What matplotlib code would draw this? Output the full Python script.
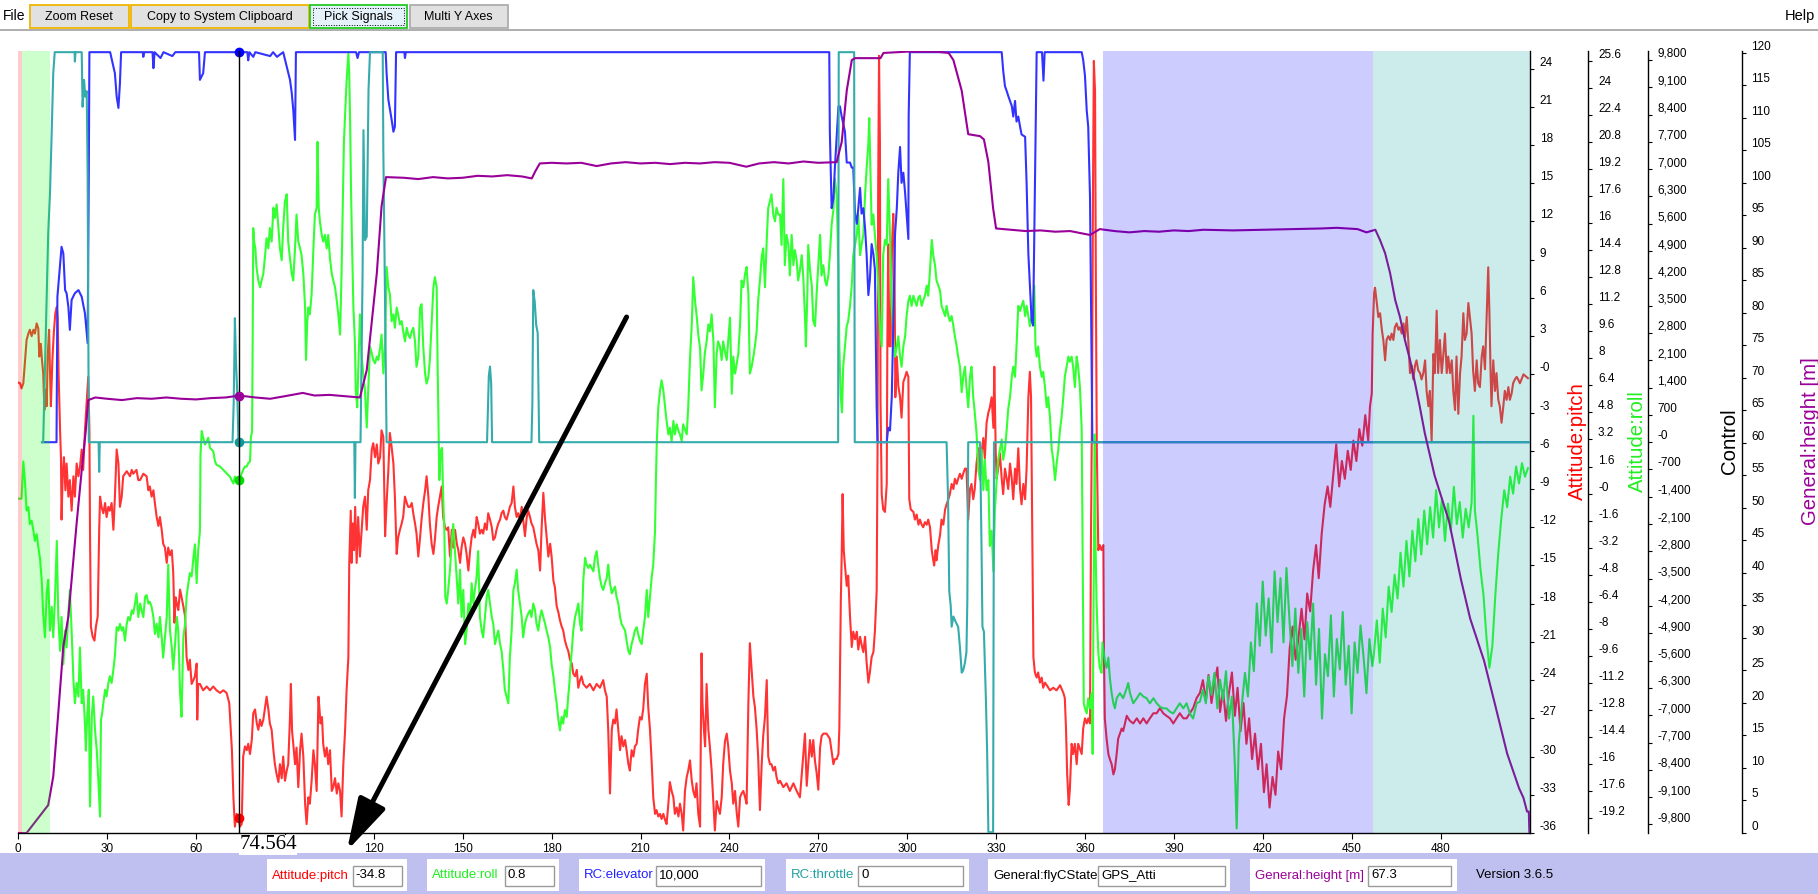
import matplotlib
matplotlib.use("Agg")
import matplotlib.pyplot as plt
import numpy as np
from matplotlib.patches import Rectangle, ArrowStyle
from matplotlib.transforms import blended_transform_factory

plt.rcParams["font.family"] = ["Liberation Sans", "DejaVu Sans"]

W, H = 1818, 894

# ---- data (time in seconds, values in each signal's own units) ----
HEIGHT = [(-0.5, 0), (2.8, 0), (10.1, 4.3), (11.8, 8.7), (13.5, 18.5), (15.2, 28.7), (16.9, 33.3), (18, 38.9),
          (19.7, 47.7), (21.4, 55.8), (22.8, 62), (23.6, 66.6), (26, 67.0), (30, 66.8), (35, 66.6), (40, 66.9),
          (45, 66.8), (50, 67.0), (55, 66.8), (60, 66.7), (65, 66.9), (70, 67.0), (74.6, 67.3), (80, 67.0),
          (85, 66.8), (90, 67.2), (96, 67.7), (100, 67.3), (105, 67.4), (110, 67.2), (115.3, 67.0), (117.6, 71.2),
          (121, 86.1), (122.6, 96.4), (124.1, 100.9), (130, 100.8), (135, 100.6), (140, 100.9), (145, 100.7),
          (150, 100.8), (155, 101.1), (160, 101.0), (165, 101.2), (170, 101.0), (173.3, 100.7), (174.5, 101.8),
          (176, 103.0), (180, 103.1), (185, 103.0), (190, 103.1), (195.2, 102.6), (200, 103.0), (205, 103.2),
          (210, 103.0), (215, 103.1), (220, 102.9), (225, 103.1), (230, 103.0), (235, 103.2), (240, 103.1),
          (245.7, 102.5), (250, 103.0), (255, 103.2), (260, 103.0), (265, 103.3), (270, 103.1), (276.2, 103.2),
          (277.9, 106.3), (279.6, 114.2), (281.3, 118.9), (282.4, 119.2), (291, 119.2), (292, 120.0), (300, 120.2),
          (310, 120.2), (314, 120.0), (315.6, 118.9), (318.4, 114.2), (320.6, 107.5), (324.6, 107.2), (325.9, 106.7),
          (327.4, 103.2), (329, 96.1), (330, 93.0), (335, 92.8), (340, 92.6), (345, 92.7), (350, 92.5), (355, 92.6),
          (361.7, 92.0), (365, 92.9), (370, 92.6), (375, 92.4), (380, 92.6), (385, 92.5), (390, 92.7), (395, 92.6),
          (400, 92.8), (410, 92.7), (420, 92.8), (430, 92.9), (440, 93.0), (445, 93.1), (452, 92.9), (455, 92.4),
          (458, 92.8), (459.6, 91.2), (461.3, 89.2), (463, 86.1), (464.7, 82.0), (466.3, 79.4), (468, 75.8),
          (469.7, 72.8), (471.4, 69.2), (473, 65.6), (474.7, 61.5), (478, 55.0), (482.9, 47.9), (486.9, 39.0),
          (490, 33.0), (494.7, 26.5), (498.6, 19.4), (502.5, 12.2), (506.5, 6.9), (508, 5.4), (509.2, 3.3),
          (509.8, 3.3), (510, 0)]

ELEVATOR = [(8, 0), (12.9, 0), (13.2, 3730), (14.6, 5010), (15.2, 4840), (15.8, 3900), (16.3, 3820), (16.9, 3470),
            (17.4, 2880), (18, 3650), (19.1, 3820), (20.3, 3900), (21.4, 3730), (22.5, 3300), (23.1, 2800),
            (23.4, 2540), (23.8, 6900), (24, 10000), (31, 10000), (32.6, 9460), (33.2, 8860), (33.8, 8570),
            (34.3, 9200), (34.7, 10000), (42, 10000), (42.2, 9880), (42.5, 10000), (45.3, 10000), (45.6, 9590),
            (46, 10000), (48, 9850), (49, 10000), (52, 9900), (53, 10000), (61, 10000), (61.3, 9290), (62.4, 9460),
            (63, 10000), (77.3, 10000), (77.6, 9790), (78, 10000), (79.3, 9880), (80, 10000), (85, 9900),
            (86, 10000), (87.3, 9880), (89.4, 10000), (90.6, 9630), (91.7, 9290), (92.3, 8950), (92.8, 8520),
            (93.4, 7750), (93.7, 10000), (114, 10000), (114.5, 9850), (115, 10000), (124, 10000), (124.3, 9460),
            (124.9, 8780), (126, 8270), (126.6, 7960), (127.1, 8090), (127.5, 10000), (130.3, 10000), (130.5, 9850),
            (130.8, 10000), (273.7, 10000), (273.9, 7960), (274.5, 6000), (275.1, 6260), (275.6, 7040), (276.2, 7830),
            (276.8, 8610), (277.3, 8610), (277.9, 8350), (279, 7960), (279.6, 7170), (280.7, 7170), (281.3, 7040),
            (281.8, 7040), (282.4, 5860), (283, 5600), (283.5, 6000), (284.1, 6520), (284.6, 5860), (285.2, 6000),
            (285.8, 5470), (286.3, 4820), (286.9, 3770), (287.4, 4160), (288, 5080), (288.6, 4820), (289.1, 4430),
            (289.7, 895), (290, 0), (293.1, 0), (293.6, 370), (294.2, 300), (294.8, 1160), (295.3, 2990),
            (295.9, 5340), (296.5, 6000), (297, 6910), (297.6, 7570), (298.1, 6650), (298.7, 6910), (299.3, 6390),
            (299.8, 5860), (300.4, 5210), (300.5, 8350), (300.9, 10000), (331.9, 10000), (332.4, 9530), (333, 9130),
            (333.6, 9000), (334.1, 8880), (334.7, 8750), (335.3, 8620), (335.8, 8350), (336.4, 8750), (336.9, 8220),
            (337.5, 8350), (338.1, 8090), (338.6, 7890), (339.8, 7830), (340.3, 6650), (340.9, 4820), (341.4, 4030),
            (342, 3120), (342.5, 2990), (343.1, 6390), (343.7, 10000), (345.5, 10000), (346, 9270), (346.4, 10000),
            (358.9, 10000), (359.4, 9800), (360, 9400), (360.6, 8500), (361.1, 8090), (361.7, 6300), (362, 3900),
            (362.5, 0), (510.2, 0)]

THROTTLE = [(8, 0), (8.4, 0), (10.1, 5360), (10.7, 6390), (11.2, 7750), (11.8, 9460), (12.3, 10000), (19, 10000),
            (19.1, 9760), (19.3, 10000), (21.4, 10000), (21.7, 8600), (22.2, 9290), (22.6, 8860), (23.1, 9000),
            (23.4, 6900), (23.8, 0), (27.1, 0), (27.3, -760), (27.5, 0), (72.3, 0), (72.7, 1000), (73.1, 3180),
            (73.5, 2000), (73.9, 1260), (74.3, 0), (113.4, 0), (113.6, -1430), (113.8, 0), (115.5, 0), (116.2, 4330),
            (116.5, 8000), (117, 5180), (117.6, 5270), (118.2, 9030), (118.7, 10000), (123, 10000), (123.2, 7490),
            (123.8, 3470), (124.3, 0), (158.2, 0), (158.8, 1700), (159.2, 1940), (159.6, 1500), (159.9, 0),
            (173.2, 0), (173.5, 1000), (173.8, 3900), (174.3, 3600), (174.8, 3000), (175.3, 2800), (175.8, 0),
            (276.7, 0), (276.9, 10000), (282.1, 10000), (282.3, 0), (313.3, 0), (313.8, -1460), (314.2, -3820),
            (314.7, -4200), (315, -4730), (315.6, -4470), (316.1, -4560), (316.7, -4660), (317.2, -4730),
            (317.8, -5250), (318.4, -5910), (318.9, -5850), (319.5, -5650), (320, -5380), (320.3, -4070),
            (320.6, 0), (324.6, 0), (325.1, -2760), (325.4, -4730), (325.9, -4860), (326.6, -6690), (327, -8000),
            (327.4, -10000), (329, -10000), (329.3, 0), (510.2, 0)]

PITCH = [(-0.5, -0.6), (0.6, -0.7), (1.1, -1.1), (1.7, -0.7), (2.3, 1.1), (2.8, 2.7), (3.4, 3.2), (3.9, 3.5),
         (4.5, 3.0), (5.1, 3.5), (5.6, 3.2), (6.2, 4.0), (6.75, 3.6), (7.1, 1.4), (7.6, 2.4), (8, 1.1), (8.4, 0.1),
         (8.8, -2.8), (9.2, -1.2), (9.6, -2.5), (9.9, 1.4), (10.4, 3.5), (10.7, 0.1), (11, -2.5), (11.5, 1.1),
         (12, 3.3), (12.5, 4.8), (13, 5.3), (13.3, 4.4), (13.6, 0.1), (14.1, -4.4), (14.4, -6.5), (14.6, -11.4),
         (15, -7.8), (15.4, -6.5), (15.9, -9.1), (16.3, -7.0), (16.9, -9.6), (17.4, -8.3), (18, -10.7),
         (18.6, -8.0), (19.1, -9.6), (19.7, -7.0), (20.3, -8.0), (20.8, -7.3), (21.4, -5.9), (21.9, -7.5),
         (22.5, -4.4), (23.6, -0.2), (24, -4.4), (24.2, -12.2), (24.5, -19.8), (25.1, -20.6), (25.7, -20.9),
         (26.2, -19.8), (26.8, -19.0), (27.3, -12.2), (27.6, -9.6), (28.1, -10.4), (28.7, -10.9), (29.3, -10.1),
         (29.8, -11.2), (30.4, -10.4), (30.9, -10.7), (31.5, -10.1), (32.1, -12.2), (32.6, -9.6), (33.2, -5.9),
         (33.8, -7.0), (34.3, -10.4), (34.9, -9.6), (35.4, -8.0), (36, -7.8), (36.6, -7.6), (37.7, -8.0),
         (38.3, -7.5), (38.8, -7.8), (39.9, -7.5), (40.5, -8.3), (41.1, -8.3), (42.2, -7.8), (43.3, -8.0),
         (43.9, -9.1), (44.4, -8.8), (45, -9.6), (45.6, -9.1), (46.1, -10.1), (46.7, -11.2), (47.3, -11.9),
         (47.8, -11.2), (48.4, -12.2), (48.9, -13.3), (49.5, -13.6), (50.1, -14.8), (50.6, -13.6), (51.2, -14.2),
         (51.8, -13.8), (52.3, -15.6), (52.7, -19.5), (53.1, -17.5), (53.5, -18.0), (54, -18.5), (54.6, -16.9),
         (55.1, -17.5), (55.7, -18.2), (56.3, -19.0), (56.8, -22.2), (57.4, -23.2), (57.9, -22.4), (58.5, -24.3),
         (59.1, -24.0), (59.6, -23.7), (60.2, -22.7), (60.4, -27.1), (60.7, -24.3), (61.3, -24.3), (62.4, -24.8),
         (63.6, -24.5), (64.7, -24.8), (65.8, -24.5), (66.9, -24.8), (68.1, -25.0), (69.2, -24.8), (70.3, -25.0),
         (71.2, -25.8), (71.7, -27.9), (72.1, -29.5), (72.6, -33.2), (73.1, -35.5), (73.7, -34.5), (74.3, -34.7),
         (74.8, -35.5), (75.4, -35.3), (75.9, -30.0), (76.5, -29.2), (77.1, -29.5), (77.6, -29.0), (78.2, -29.8),
         (78.8, -28.7), (79.3, -26.6), (79.9, -26.3), (80.5, -27.4), (81, -27.9), (81.6, -27.1), (82.1, -27.6),
         (82.7, -27.1), (83.3, -26.1), (83.8, -25.3), (84.4, -26.3), (84.9, -27.4), (85.5, -27.9), (86.1, -29.5),
         (86.6, -30.6), (87.2, -31.4), (87.8, -32.0), (88.3, -30.6), (88.9, -31.7), (89.4, -30.0), (90, -31.9),
         (90.6, -31.1), (91.1, -30.6), (91.7, -26.9), (92, -24.3), (92.4, -28.0), (92.8, -29.0), (93.4, -30.6),
         (93.9, -29.3), (94.5, -32.4), (95.1, -29.5), (95.6, -28.2), (96.2, -30.0), (96.8, -33.7), (97.3, -35.3),
         (97.9, -33.2), (98.4, -33.7), (99, -31.9), (99.6, -29.5), (100.1, -30.6), (100.7, -32.7), (101.3, -25.3),
         (101.6, -26.1), (102, -27.4), (102.5, -26.9), (102.9, -29.0), (103.5, -30.0), (104.1, -29.3),
         (104.6, -30.6), (105.2, -29.5), (105.8, -32.7), (106.3, -32.4), (106.9, -31.7), (107.5, -32.9),
         (108, -32.1), (108.6, -32.7), (109.1, -34.7), (109.7, -30.6), (110.3, -27.9), (110.8, -24.8),
         (111.4, -22.2), (111.7, -14.8), (112.2, -10.7), (112.5, -14.8), (112.9, -11.7), (113.3, -13.8),
         (113.7, -10.4), (114.2, -14.8), (114.7, -11.2), (115.3, -14.3), (115.9, -12.2), (116.4, -10.4),
         (117, -9.6), (117.6, -12.2), (118.1, -9.1), (118.7, -8.3), (119.3, -5.9), (119.8, -5.4), (120.4, -6.5),
         (121, -5.5), (121.5, -7.0), (122.1, -6.5), (122.6, -4.4), (123.2, -4.9), (123.8, -12.7), (124.3, -10.1),
         (124.9, -7.5), (125.4, -4.6), (126, -5.7), (126.6, -7.0), (127.1, -9.6), (127.7, -14.1), (128.2, -12.8),
         (128.8, -12.2), (129.4, -11.7), (129.9, -11.2), (130.5, -9.6), (131.1, -10.1), (131.6, -10.4),
         (132.2, -10.4), (132.8, -10.1), (133.3, -10.9), (133.9, -11.7), (134.4, -12.5), (135, -14.3),
         (135.6, -12.8), (136.1, -11.4), (136.7, -10.1), (137.3, -9.1), (137.8, -8.0), (138.4, -9.6),
         (138.9, -11.7), (139.5, -13.3), (140.1, -14.1), (140.6, -13.0), (141.2, -11.2), (141.7, -10.4),
         (142.3, -9.6), (142.9, -8.8), (143.4, -11.2), (144, -12.0), (144.6, -12.2), (145.1, -12.0),
         (145.7, -14.3), (146.3, -12.2), (146.8, -13.6), (147.4, -12.2), (148, -13.3), (148.5, -13.8),
         (149.1, -14.8), (149.6, -13.6), (150.2, -12.8), (150.8, -13.3), (151.3, -14.1), (151.9, -15.4),
         (152.5, -13.8), (153, -12.8), (153.6, -12.2), (154.1, -12.8), (154.7, -11.2), (155.2, -11.7),
         (155.8, -12.5), (156.4, -12.2), (156.9, -12.5), (157.5, -11.7), (158.1, -12.2), (158.6, -10.9),
         (159.2, -11.4), (159.8, -12.0), (160.3, -13.0), (160.9, -12.8), (161.4, -12.2), (162, -11.7),
         (162.6, -11.4), (163.1, -10.9), (163.7, -10.7), (164.2, -11.2), (164.8, -11.4), (165.4, -10.9),
         (165.9, -10.4), (166.5, -10.1), (167.1, -8.8), (167.6, -10.4), (168.2, -11.2), (168.7, -10.9),
         (169.3, -11.4), (169.9, -10.4), (170.4, -11.4), (171, -12.7), (171.6, -11.2), (172.1, -10.7),
         (172.7, -11.2), (173.2, -11.7), (173.8, -12.0), (174.4, -12.7), (174.9, -13.3), (175.5, -13.8),
         (176.1, -15.4), (176.6, -12.2), (177.2, -9.3), (177.8, -11.4), (178.3, -12.7), (178.9, -14.3),
         (179.5, -13.3), (180, -14.3), (180.6, -16.2), (181.1, -16.7), (181.7, -18.2), (182.3, -18.7),
         (182.8, -19.3), (183.4, -19.8), (183.9, -20.1), (184.5, -20.9), (185.1, -21.4), (185.6, -21.7),
         (186.2, -22.4), (186.8, -22.7), (187.3, -23.5), (187.9, -23.7), (188.5, -23.2), (189, -24.6),
         (189.6, -24.0), (190.1, -23.7), (190.7, -24.3), (191.8, -24.6), (192.9, -24.3), (194.1, -24.8),
         (195.2, -24.3), (196.3, -24.6), (197.4, -24.0), (198, -24.8), (198.6, -25.3), (199.1, -27.9),
         (199.7, -32.9), (200.3, -27.9), (200.8, -27.1), (201.4, -27.4), (201.9, -26.3), (202.5, -27.9),
         (203.1, -29.5), (203.6, -28.4), (204.2, -29.2), (204.8, -28.7), (205.3, -29.5), (205.9, -30.6),
         (206.4, -31.1), (207, -29.5), (207.6, -30.0), (208.1, -29.2), (208.7, -29.0), (209.2, -27.9),
         (209.8, -26.9), (210.4, -27.1), (210.9, -26.3), (211.5, -24.3), (212.1, -23.5), (212.6, -26.1),
         (213.2, -27.9), (213.8, -30.6), (214.3, -33.2), (214.9, -34.5), (215.4, -34.2), (216, -34.7),
         (216.6, -34.5), (217.1, -34.9), (217.7, -34.5), (218.3, -35.0), (218.8, -35.3), (219.4, -33.7),
         (219.9, -32.0), (220.5, -32.7), (221.1, -33.2), (221.6, -34.5), (222.2, -34.0), (222.8, -34.7),
         (223.3, -33.7), (223.9, -34.5), (224.4, -35.8), (225, -32.7), (225.6, -31.6), (226.1, -31.1),
         (226.7, -30.3), (227.3, -31.9), (227.8, -32.7), (228.4, -33.2), (228.9, -32.1), (229.5, -34.5),
         (230.1, -35.5), (230.6, -21.9), (230.9, -25.8), (231.4, -27.9), (231.8, -29.2), (232.3, -24.3),
         (232.9, -27.9), (233.4, -29.2), (234, -31.1), (234.6, -33.7), (235.1, -35.8), (235.7, -33.5),
         (236.2, -34.0), (236.8, -34.5), (237.4, -33.2), (237.9, -30.6), (238.5, -28.8), (239.1, -28.2),
         (239.6, -29.2), (240.2, -31.1), (240.8, -32.1), (241.3, -33.7), (241.9, -32.7), (242.5, -34.5),
         (243, -35.5), (243.6, -33.2), (244.1, -32.9), (244.7, -32.7), (245.3, -33.2), (245.8, -33.7),
         (246.4, -25.8), (246.9, -21.1), (247.5, -23.2), (248.1, -25.3), (248.6, -26.1), (249.2, -27.9),
         (249.7, -30.0), (250.3, -34.2), (250.9, -30.6), (251.4, -28.4), (252, -26.9), (252.6, -24.0),
         (253.1, -30.0), (253.7, -30.6), (254.2, -30.6), (254.8, -31.1), (255.4, -30.8), (255.9, -31.6),
         (256.5, -32.1), (257.1, -31.9), (258.2, -32.4), (259.3, -32.1), (260.4, -32.7), (261.6, -32.1),
         (262.7, -32.7), (263.8, -33.2), (265.5, -28.2), (266.1, -32.3), (267.2, -28.7), (267.8, -30.0),
         (268.3, -28.7), (268.9, -30.4), (269.4, -31.2), (270, -32.6), (270.6, -29.3), (271.1, -28.4),
         (271.7, -28.2), (272.8, -28.2), (273.9, -28.6), (274.5, -29.6), (275.1, -30.6), (275.6, -30.2),
         (276.2, -30.2), (276.8, -29.8), (277.1, -27.8), (277.6, -17.8), (277.9, -14.2), (278.2, -9.4),
         (278.6, -13.8), (279, -15.0), (279.6, -16.6), (280.1, -15.8), (280.7, -19.0), (281.3, -21.4),
         (281.8, -20.2), (282.4, -20.8), (283, -20.2), (283.5, -21.6), (284.1, -20.6), (284.6, -21.2),
         (285.2, -21.8), (285.8, -20.6), (286.3, -22.6), (286.9, -24.2), (287.4, -23.4), (288, -22.2),
         (288.6, -21.8), (289.1, -20.2), (289.7, -17.0), (290, -5.8), (290.2, 14.2), (290.5, 25.0), (290.8, 18.2),
         (291, -2.0), (291.4, -9.4), (291.9, -10.6), (292.5, -10.8), (293.1, -8.6), (293.3, 2.2), (293.6, 10.2),
         (294, 2.2), (294.4, 2.2), (294.9, 10.2), (295.3, 12.6), (295.7, 9.4), (296, -1.8), (296.5, 1.4),
         (297, -0.9), (297.6, -1.8), (298.1, -3.4), (298.7, -0.6), (299.3, -0.2), (299.8, 0.2), (300.4, -0.2),
         (300.7, -9.8), (301.2, -10.6), (302.1, -10.8), (302.6, -11.4), (303.2, -11.0), (303.8, -11.8),
         (304.3, -11.4), (304.9, -11.8), (305.4, -12.0), (306, -11.6), (306.6, -11.8), (307.1, -11.4),
         (307.7, -12.0), (308.3, -13.8), (308.8, -14.6), (309.1, -15.0), (309.6, -13.8), (309.9, -14.6),
         (310.5, -13.4), (311.1, -12.6), (311.6, -11.4), (312.2, -11.8), (312.8, -10.6), (313.3, -10.2),
         (313.9, -9.8), (314.4, -9.4), (315, -8.6), (315.6, -9.0), (316.1, -8.2), (316.7, -8.6), (317.2, -8.2),
         (317.8, -7.8), (318.4, -8.2), (318.9, -7.8), (319.5, -7.4), (320, -7.4), (320.6, -11.4), (321.2, -9.0),
         (321.7, -8.6), (322.3, -9.8), (322.8, -9.0), (323.4, -7.0), (324, -5.8), (324.6, -7.8), (325.1, -6.2),
         (325.7, -5.0), (326.2, -6.6), (326.8, -3.8), (327.4, -3.0), (327.9, -2.6), (328.5, -1.8), (329.1, -4.2),
         (329.4, 0.6), (329.9, -6.2), (330.2, -8.2), (330.7, -7.4), (331.3, -6.2), (331.9, -8.2), (332.4, -9.4),
         (333, -7.4), (333.6, -8.2), (334.1, -9.0), (334.7, -7.0), (335.3, -8.2), (335.8, -9.8), (336.4, -7.4),
         (336.9, -8.6), (337.5, -5.8), (338.1, -9.0), (338.6, -10.2), (339.2, -8.6), (339.8, -9.8),
         (340.3, -7.4), (340.9, -1.8), (341.4, 0.2), (341.8, -1.8), (342.1, -9.8), (342.6, -22.2),
         (343.1, -23.4), (343.7, -23.8), (344.2, -23.4), (344.8, -24.2), (345.4, -23.8), (345.9, -24.6),
         (346.5, -24.2), (347.1, -24.4), (348.2, -24.8), (349.3, -24.6), (350.4, -24.8), (351.6, -24.4),
         (352.7, -25.0), (353.2, -25.4), (353.6, -27.8), (354, -31.4), (354.5, -33.8), (354.9, -32.6),
         (355.5, -29.0), (356, -29.8), (356.6, -29.0), (357.2, -30.6), (357.7, -29.0), (358.3, -29.4),
         (358.9, -29.8), (359.4, -27.8), (360, -27.0), (360.6, -27.4), (361.1, -27.0), (361.7, -27.4),
         (362, -13.8), (362.4, -1.8), (362.7, 14.2), (363, 24.6), (363.4, 22.2), (363.7, 6.2), (364, -5.8),
         (364.5, -13.8), (365, -13.4), (365.6, -13.8), (366.2, -13.4), (366.4, -21.8), (366.7, -27.0),
         (367.3, -28.6), (367.9, -29.8), (368.4, -30.2), (369, -30.6), (369.6, -31.4), (370.1, -31.0),
         (370.7, -29.8), (371.2, -28.6), (371.8, -28.2), (372.4, -27.8), (372.9, -28.0), (373.5, -27.4),
         (374.1, -26.8), (374.6, -27.0), (375.2, -27.2), (376.3, -27.4), (377.5, -27.0), (378.6, -27.4),
         (379.7, -27.0), (380.8, -27.4), (381.9, -27.0), (383.1, -26.6), (384.2, -26.6), (385.3, -26.2),
         (386.4, -26.6), (387.5, -26.8), (388.7, -27.0), (389.8, -27.4), (390.9, -27.0), (392, -26.6),
         (393.2, -27.0), (394.3, -27.0), (395.4, -26.6), (396.5, -26.2), (397.7, -25.4), (398.8, -25.0),
         (399.8, -24.0), (400.8, -25.6), (401.7, -23.6), (402.7, -25.8), (403.7, -24.2), (404.7, -23.0),
         (405.6, -26.5), (406.6, -24.8), (407.6, -27.2), (408.6, -25.0), (409.6, -23.4), (410.6, -26.8),
         (411.5, -24.6), (412.5, -28.0), (413.5, -25.8), (414.5, -29.0), (415.4, -27.0), (416.4, -30.2),
         (417.4, -28.2), (418.4, -31.0), (419.4, -29.0), (420.4, -32.8), (421.3, -30.6), (422.3, -34.0),
         (423.3, -31.6), (424.3, -33.0), (425.2, -29.6), (426.2, -31.0), (427.2, -27.0), (428.2, -25.2),
         (429.1, -21.5), (430.1, -19.8), (431.1, -22.4), (432.1, -20.6), (433.1, -18.4), (434.1, -20.8),
         (435, -17.2), (436, -18.6), (437, -15.4), (438, -13.4), (438.9, -16.0), (439.9, -12.5), (440.9, -10.2),
         (441.9, -8.8), (442.8, -10.4), (443.8, -7.9), (444.8, -5.5), (445.8, -8.8), (446.7, -6.8), (447.7, -8.2),
         (448.7, -6.0), (449.7, -7.5), (450.6, -5.2), (451.6, -6.8), (452.6, -4.3), (453.6, -5.6), (454.6, -3.2),
         (455.6, -5.2), (456.2, -2.5), (456.8, -1.5), (457.1, 3.2),
         (457.6, 6.4), (457.9, 6.8), (458.5, 5.6), (459, 4.5), (459.6, 4.8), (460.2, 3.5), (460.7, 2.7),
         (461.3, 1.1), (461.8, 2.7), (462.4, 3.0), (463, 2.7), (463.5, 3.2), (464.1, 2.7), (464.6, 3.7),
         (465.2, 4.0), (465.8, 3.5), (466.3, 3.7), (466.9, 3.2), (467.5, 4.0), (468, 2.9), (468.6, 4.5),
         (469.1, 2.7), (469.7, 0.1), (470.3, 0.7), (470.8, -0.4), (471.4, 0.7), (471.9, 1.1), (472.5, 0.3),
         (473.1, 0.1), (473.6, -0.4), (474.2, 0.1), (474.8, 1.1), (475.3, -1.3), (475.9, -2.5), (476.4, -1.3),
         (477, -5.2), (477.6, 1.6), (478.1, 0.1), (478.7, 5.0), (479.2, 0.1), (479.8, 2.7), (480.4, 0.1),
         (480.9, 1.4), (481.5, 3.2), (482.1, 0.1), (482.6, 1.4), (483.2, 0.1), (483.8, 1.1), (484.3, -1.3),
         (484.9, -2.8), (485.4, 1.4), (486, -3.1), (486.6, 0.1), (487.1, 1.4), (487.7, 4.8), (488.2, 2.7),
         (488.8, 3.2), (489.4, 5.6), (489.9, 4.5), (490.5, 3.2), (491, 0.3), (491.6, -1.3), (492.2, 1.1),
         (492.7, -0.7), (493.3, -1.0), (493.9, 1.4), (494.4, 2.2), (495, 0.4), (495.6, 4.8), (496.1, 8.4),
         (496.5, 4.8), (496.9, 0.1), (497.2, -2.5), (497.8, 1.1), (498.4, -1.3), (498.9, 0.1), (499.5, -2.0),
         (500, -2.5), (500.6, -3.8), (501.2, -2.5), (501.7, -1.3), (502.3, -2.0), (502.9, -1.0), (503.4, -2.0),
         (504, -1.5), (504.5, -0.7), (505.1, -0.4), (505.7, -0.2), (506.2, -0.4), (506.8, -0.7), (508, 0.0),
         (509.5, -0.3)]

ROLL = [(-0.5, -0.3), (1.1, -0.3), (1.7, 1.9), (2.3, 0.6), (2.8, -1.0), (3.4, -0.8), (3.9, -1.8), (4.5, -1.6),
        (5.1, -2.2), (5.6, -2.8), (6.2, -2.4), (6.8, -3.2), (7.3, -3.8), (7.9, -5.1), (8.4, -7.1), (9, -8.5),
        (9.6, -5.8), (10.1, -5.1), (10.7, -8.1), (11.3, -6.7), (11.8, -8.5), (12.4, -6.1), (13, -2.8),
        (13.5, -7.3), (14.1, -9.3), (14.6, -7.3), (15.2, -10.1), (15.8, -8.1), (16.3, -9.1), (16.9, -7.1),
        (17.4, -5.7), (18, -8.1), (18.6, -11.0), (19.1, -12.4), (19.7, -11.2), (20.3, -12.0), (20.8, -9.1),
        (21.4, -12.4), (21.9, -11.6), (22.5, -13.6), (22.8, -15.2), (23.3, -13.0), (23.8, -11.6), (24.2, -18.5),
        (24.8, -13.2), (25.3, -12.0), (25.9, -14.0), (26.5, -15.2), (27, -16.9), (27.6, -19.1), (27.9, -13.4),
        (28.3, -13.0), (28.7, -12.4), (29.3, -11.6), (29.8, -12.0), (30.4, -11.2), (30.9, -10.8), (31.5, -11.2),
        (32.1, -10.4), (32.6, -9.6), (33.2, -7.9), (33.8, -8.1), (34.3, -7.7), (34.9, -8.1), (35.4, -7.9),
        (36, -8.7), (36.6, -7.7), (37.1, -7.3), (37.7, -7.5), (38.3, -6.9), (38.8, -7.1), (39.4, -6.5),
        (39.9, -5.9), (40.5, -7.3), (41.1, -6.5), (41.6, -6.9), (42.2, -7.3), (42.8, -6.1), (43.3, -6.0),
        (43.9, -6.5), (44.4, -6.4), (45, -6.7), (45.6, -7.3), (46.1, -8.3), (46.7, -7.7), (47.3, -8.5),
        (47.8, -7.3), (48.4, -8.5), (48.9, -9.7), (49.5, -8.5), (50.1, -7.3), (50.6, -4.2), (51.2, -8.1),
        (51.8, -9.1), (52.3, -10.4), (52.9, -8.9), (53.5, -7.3), (54, -8.1), (54.6, -11.8), (55.1, -13.2),
        (55.7, -8.5), (56.3, -7.7), (56.8, -6.1), (57.4, -5.3), (57.9, -4.7), (58.5, -4.9), (59.1, -3.8),
        (59.6, -3.0), (60.2, -5.3), (60.7, -3.4), (61.3, -2.2), (61.5, 2.3), (61.9, 3.7), (62.4, 3.3), (63, 2.9),
        (63.6, 3.1), (64.1, 3.3), (64.7, 2.7), (65.8, 2.5), (66.4, 1.9), (66.9, 1.7), (68.1, 1.6), (69.2, 1.4),
        (70.3, 1.2), (71.4, 1.0), (72, 0.8), (72.6, 0.6), (73.1, 1.0), (73.7, 0.8), (74.3, 0.9), (74.8, 0.8),
        (75.4, 1.2), (75.9, 1.4), (76.5, 1.6), (77.1, 1.6), (77.6, 1.8), (78.2, 1.9), (78.5, 3.3), (78.9, 3.7),
        (79.1, 9.0), (79.3, 15.7), (79.6, 14.9), (80, 14.5), (80.4, 13.4), (81, 12.6), (81.6, 12.2), (82.1, 12.6),
        (82.7, 13.0), (83.3, 14.1), (83.8, 15.1), (84.4, 14.5), (84.9, 15.7), (85.5, 14.9), (86.1, 16.9),
        (86.6, 16.3), (87.2, 17.1), (87.8, 15.7), (88.3, 14.5), (88.9, 13.8), (89.4, 15.7), (90, 17.3),
        (90.6, 17.7), (91.1, 14.9), (91.7, 13.9), (92.3, 13.0), (92.8, 12.6), (93.4, 14.5), (93.9, 16.5),
        (94.5, 14.9), (95.1, 14.5), (95.6, 14.1), (96.2, 13.0), (96.8, 11.0), (97.1, 7.9), (97.5, 10.1),
        (97.9, 11.0), (98.4, 10.6), (99, 11.8), (99.6, 14.5), (100.1, 16.5), (100.7, 16.9), (101, 20.8),
        (101.4, 16.9), (101.8, 16.1), (102.4, 15.3), (102.9, 14.9), (103.5, 15.3), (104.1, 14.5), (104.6, 15.3),
        (105.2, 13.9), (105.8, 13.0), (106.3, 12.6), (106.9, 12.2), (107.5, 11.4), (108, 10.6), (108.6, 9.4),
        (109.1, 13.0), (109.5, 16.9), (109.9, 20.8), (110.4, 22.8), (110.8, 24.4), (111.4, 26.0), (111.7, 24.8),
        (112, 21.9), (112.3, 17.9), (112.6, 15.1), (113.1, 11.0), (113.6, 9.0), (113.9, 6.1), (114.4, 5.1),
        (114.7, 7.1), (115.3, 10.6), (115.9, 8.1), (116.4, 7.1), (117, 6.1), (117.6, 3.9), (118.1, 6.1),
        (118.7, 8.7), (119.3, 8.3), (119.8, 7.9), (120.4, 7.7), (121, 8.1), (121.5, 7.9), (122.1, 8.6),
        (122.6, 9.4), (123.2, 7.1), (123.8, 8.9), (124.3, 13.4), (124.9, 12.2), (125.4, 11.8), (126, 10.2),
        (126.6, 10.6), (127.1, 9.8), (127.7, 11.0), (128.2, 10.6), (128.8, 10.0), (129.4, 10.2), (129.9, 9.6),
        (130.5, 9.0), (131.1, 9.8), (131.6, 9.4), (132.2, 9.2), (132.8, 9.6), (133.3, 9.8), (133.9, 9.0),
        (134.4, 7.5), (135, 8.1), (135.6, 11.0), (136.1, 11.2), (136.7, 8.6), (137.3, 7.1), (137.8, 6.5),
        (138.4, 6.9), (138.9, 7.9), (139.5, 10.0), (140.1, 12.2), (140.6, 12.8), (141.2, 12.2), (141.5, 7.9),
        (141.9, 3.1), (142.1, 0.8), (142.5, 2.5), (143, 2.7), (143.4, -0.2), (143.8, -2.2), (144.1, -6.1),
        (144.6, -6.5), (145.1, -5.7), (145.7, -4.5), (146.3, -2.8), (146.8, -1.8), (147.4, -3.4), (148, -5.1),
        (148.5, -6.5), (149.1, -4.5), (149.6, -7.3), (150.2, -5.7), (150.8, -8.9), (151.3, -8.1), (151.9, -6.5),
        (152.5, -7.3), (153, -5.3), (153.6, -6.5), (154.1, -5.7), (154.7, -4.9), (155.2, -3.4), (155.8, -7.3),
        (156.4, -8.1), (156.9, -8.5), (157.5, -7.3), (158.1, -6.1), (158.6, -5.7), (159.2, -6.5), (159.8, -7.3),
        (160.3, -7.7), (160.9, -8.9), (161.4, -8.5), (162, -8.1), (162.6, -8.9), (163.1, -9.3), (163.7, -10.4),
        (164.2, -11.6), (164.8, -12.0), (165.4, -12.4), (165.9, -9.7), (166.5, -8.1), (167.1, -5.7), (167.6, -5.3),
        (168.2, -4.5), (168.7, -5.7), (169.3, -6.5), (169.9, -7.3), (170.4, -8.5), (171, -7.7), (171.6, -7.3),
        (172.1, -7.1), (172.7, -6.9), (173.2, -7.3), (173.8, -6.5), (174.4, -6.9), (174.9, -7.7), (175.5, -8.1),
        (176.1, -7.3), (176.6, -6.9), (177.2, -7.3), (177.8, -7.7), (178.3, -8.1), (178.9, -8.5), (179.5, -9.1),
        (180, -10.1), (180.6, -10.8), (181.1, -11.6), (181.7, -12.4), (182.3, -13.4), (182.8, -14.0),
        (183.4, -13.2), (183.9, -13.6), (184.5, -12.8), (185.1, -13.2), (185.6, -12.0), (186, -11.2),
        (186.4, -10.1), (186.8, -9.3), (187.3, -8.1), (187.9, -7.3), (188.5, -6.9), (189, -6.5), (189.6, -7.7),
        (190.1, -8.1), (190.7, -5.1), (191.3, -3.8), (191.8, -4.2), (192.4, -4.4), (192.9, -4.2), (194.1, -4.6),
        (194.6, -3.8), (195.2, -3.4), (195.7, -4.2), (196.3, -5.0), (196.9, -5.5), (197.4, -5.7), (198, -5.3),
        (198.6, -5.0), (199.1, -4.2), (199.7, -5.3), (200.3, -5.9), (200.8, -5.7), (201.4, -5.5), (201.9, -6.1),
        (202.5, -6.5), (203.1, -7.3), (203.6, -7.7), (204.2, -7.9), (204.8, -8.1), (205.3, -8.7), (205.9, -9.3),
        (206.4, -9.5), (207, -8.9), (207.6, -8.5), (208.1, -8.1), (208.7, -7.9), (209.2, -8.3), (209.8, -8.7),
        (210.4, -8.9), (210.9, -8.1), (211.5, -7.3), (212.1, -5.7), (212.6, -7.3), (213.2, -6.1), (213.8, -4.9),
        (214.3, -4.2), (214.9, -2.2), (215.2, 0.8), (215.5, 3.1), (216, 5.1), (216.6, 6.1), (217.1, 6.7),
        (217.7, 6.1), (218.3, 5.1), (218.8, 4.3), (219.4, 3.5), (219.9, 3.9), (220.5, 3.1), (221.1, 4.3),
        (221.6, 3.5), (222.2, 4.1), (222.8, 3.7), (223.3, 3.5), (223.9, 3.1), (224.4, 4.1), (225.6, 3.5),
        (226.1, 5.1), (226.7, 8.0), (227.3, 10.0), (227.8, 12.8), (228.4, 11.4), (228.9, 10.6), (229.5, 9.4),
        (230.1, 8.6), (230.6, 6.1), (231.2, 7.1), (231.7, 8.3), (232.3, 9.0), (232.9, 10.0), (233.4, 9.6),
        (234, 10.6), (234.6, 9.0), (235.1, 5.1), (235.7, 8.3), (236.2, 9.0), (236.8, 8.7), (237.4, 7.9),
        (237.9, 9.0), (238.5, 8.4), (239.1, 7.9), (239.6, 9.0), (240.2, 10.4), (240.8, 5.9), (241.3, 8.1),
        (241.9, 7.1), (242.5, 7.7), (243, 8.3), (243.6, 10.0), (244.1, 12.6), (244.7, 12.2), (245.3, 13.0),
        (245.8, 13.4), (246.4, 11.8), (246.9, 7.1), (247.5, 7.5), (248.1, 8.1), (248.6, 8.7), (249.2, 9.6),
        (249.7, 11.4), (250.3, 12.6), (250.9, 14.0), (251.4, 14.5), (252, 12.2), (252.6, 15.0), (253.1, 16.9),
        (253.7, 17.3), (254.2, 17.7), (254.8, 16.5), (255.4, 16.1), (255.9, 16.9), (256.5, 16.5), (257.1, 16.5),
        (257.6, 14.7), (258.2, 18.6), (258.7, 13.5), (259.3, 15.3), (259.9, 14.7), (260.4, 12.9), (261, 15.3),
        (261.6, 13.5), (262.1, 14.4), (262.7, 13.8), (263.2, 12.6), (263.8, 13.2), (264.4, 14.1), (264.9, 12.9),
        (265.5, 10.5), (265.8, 8.7), (266.3, 11.7), (266.6, 14.7), (267.2, 13.2), (267.8, 12.3), (268.3, 10.2),
        (268.9, 9.9), (269.4, 11.7), (270, 13.5), (270.6, 15.3), (271.1, 12.9), (271.7, 13.5), (272.3, 12.6),
        (272.8, 12.3), (273.4, 12.9), (273.9, 14.1), (274.5, 15.9), (275.1, 16.8), (275.6, 18.6), (276.2, 17.7),
        (276.8, 13.2), (277.1, 8.7), (277.6, 5.7), (278, 4.8), (278.4, 7.5), (279, 8.7), (279.6, 9.9),
        (280.1, 10.2), (280.7, 11.1), (281.3, 12.3), (281.8, 14.1), (282.4, 14.7), (283, 15.3), (283.5, 16.5),
        (284.1, 14.1), (284.6, 14.7), (285.2, 15.3), (285.8, 17.7), (286.3, 19.2), (286.9, 20.7), (287.2, 22.2),
        (287.7, 18.3), (288, 15.9), (288.6, 16.5), (289.1, 15.3), (289.7, 14.1), (290.2, 12.3), (290.8, 9.9),
        (291.4, 8.7), (291.9, 14.1), (292.5, 15.0), (293.1, 14.7), (293.6, 18.6), (294.2, 15.3), (294.8, 11.1),
        (295.3, 9.3), (295.9, 8.1), (296.5, 8.7), (297, 9.3), (297.6, 8.1), (298.1, 7.5), (298.7, 8.7),
        (299.3, 9.3), (299.8, 10.5), (300.4, 11.4), (300.9, 11.7), (301.5, 11.1), (302.1, 11.7), (302.6, 11.4),
        (303.2, 11.1), (303.8, 11.6), (304.3, 11.7), (304.9, 11.1), (305.4, 11.4), (306, 11.7), (306.6, 12.3),
        (307.1, 11.7), (307.7, 13.2), (308.3, 15.0), (308.8, 14.1), (309.4, 13.5), (309.9, 12.6), (310.5, 12.3),
        (311.1, 12.0), (311.6, 11.1), (312.2, 10.8), (312.8, 10.5), (313.3, 11.1), (313.9, 10.5), (314.4, 10.2),
        (315, 10.5), (315.6, 9.9), (316.1, 9.3), (316.7, 8.7), (317.2, 8.1), (317.8, 7.5), (318.4, 6.0),
        (318.9, 6.9), (319.5, 7.5), (320, 6.3), (320.6, 5.1), (321.2, 6.9), (321.7, 7.5), (322.3, 5.7),
        (322.8, 4.8), (323.4, 3.6), (324, 1.4), (324.6, 0.8), (325.1, 2.6), (325.7, 0.2), (326.2, 2.0),
        (326.8, 0.2), (327.4, 0.8), (327.9, -3.1), (328.5, -2.2), (329.1, -4.6), (329.6, -1.0), (330.2, 0.8),
        (330.7, 2.0), (331.3, 2.6), (331.9, 3.2), (332.4, 2.0), (333, 2.6), (333.6, 3.8), (334.1, 5.0),
        (334.7, 5.7), (335.3, 6.9), (335.8, 7.5), (336.4, 6.9), (336.9, 8.7), (337.5, 11.1), (338.1, 10.8),
        (338.6, 11.1), (339.2, 11.4), (339.8, 10.5), (340.3, 11.1), (340.9, 10.5), (341.4, 9.9), (342, 10.5),
        (342.6, 11.7), (342.9, 12.3), (343.3, 8.7), (343.7, 8.1), (344.2, 8.7), (344.8, 7.5), (345.4, 6.9),
        (345.9, 7.2), (346.5, 6.3), (347.1, 5.1), (347.6, 5.7), (348.2, 4.5), (348.8, 2.6), (349.3, 2.0),
        (349.9, 0.8), (350.4, 1.7), (351, 2.6), (351.6, 3.8), (352.1, 4.5), (352.7, 5.7), (353.2, 6.9),
        (353.8, 7.5), (354.4, 8.1), (354.9, 7.8), (355.5, 8.1), (356, 7.5), (356.6, 6.3), (357.2, 8.1),
        (357.7, 7.5), (358.3, 6.3), (358.9, 3.8), (359.2, -3.5), (359.6, -12.4), (360, -12.7), (360.6, -13.0),
        (361.1, -12.1), (361.7, -12.7), (362.3, -11.8), (362.6, -15.4), (362.9, -6.4), (363.3, 3.5),
        (363.6, -3.3), (363.9, -6.4), (364.5, -9.4), (365, -10.3), (365.6, -10.6), (365.9, -8.8), (366.8, -10.0),
        (367.3, -10.3), (367.9, -9.7), (368.4, -10.9), (369, -11.8), (369.6, -12.4), (370.1, -12.7),
        (370.7, -12.1), (371.8, -11.8), (372.9, -12.1), (374.1, -11.5), (374.6, -11.2), (375.2, -11.8),
        (376.3, -12.4), (377.5, -12.1), (378.6, -11.8), (379.7, -12.0), (380.8, -12.1), (381.9, -12.4),
        (383.1, -12.1), (384.2, -12.4), (385.3, -12.6), (386.4, -12.7), (387.5, -12.7), (388.7, -12.9),
        (389.8, -13.0), (390.9, -12.7), (392, -12.4), (393.2, -12.7), (394.3, -12.4), (395.4, -13.0),
        (396.5, -13.3), (397.7, -12.4), (398.8, -12.3), (399.8, -11.6), (400.8, -12.4), (401.7, -10.8),
        (402.7, -11.9), (403.7, -10.6), (404.7, -12.7), (405.6, -11.0), (406.6, -12.2), (407.6, -10.5),
        (408.6, -13.3), (409.6, -12.0), (410.6, -16.1), (411.2, -19.8), (411.9, -14.8), (413, -12.4), (414, -10.6),
        (415, -12.0), (416, -8.8), (417, -10.5), (418, -6.5), (419, -9.0), (420, -5.2), (421, -8.4), (422, -6.2),
        (423, -9.4), (424, -4.6), (425, -7.6), (426, -5.0), (427, -8.8), (428, -4.4), (429, -7.4), (430, -10.2),
        (431, -6.8), (432, -10.6), (433, -8.0), (434, -12.0), (435, -7.6), (436, -9.8), (437, -6.5), (438, -11.3),
        (439, -8.0), (440, -13.3), (441, -9.5), (442, -10.8), (443, -7.2), (444, -12.0), (445, -8.6), (446, -10.4),
        (447, -7.0), (448, -11.3), (449, -9.0), (450, -13.0), (451, -8.8), (452, -10.6), (453, -7.8), (454, -9.6),
        (455, -11.8), (456, -8.6), (457, -10.2), (457.5, -9.5), (458.5, -7.5), (459.5, -10.0), (460.5, -6.8),
        (461.5, -8.5), (462.5, -5.5), (463.5, -7.0), (464.5, -4.8), (465.5, -6.2), (466.5, -3.5), (467.5, -5.5),
        (468.5, -2.8), (469.5, -4.9), (470.5, -2.2), (471.5, -4.0), (472.5, -1.5), (473.5, -3.6), (474.5, -1.0),
        (475.5, -3.0), (476.5, -0.8), (477.5, -2.6), (478.5, 0.2), (479.5, -2.0), (480.5, -0.3), (481.5, -2.8),
        (482.5, -0.6), (483.5, -2.2), (484.5, 0.4), (485.5, -1.8), (486.5, -0.5), (487.5, -2.6), (488.5, -0.9),
        (489.5, -2.0), (490.5, -0.5), (491.1, 4.6), (491.6, -1.0), (492.5, -2.5), (493.5, -4.5), (494.5, -6.0),
        (495.5, -8.5), (496.5, -10.3), (497.5, -9.0), (498.5, -6.0), (499.5, -3.5), (500.5, -1.5), (501.5, 0.2),
        (502.5, -0.8), (503.5, 1.0), (504.5, 0.0), (505.5, 1.6), (506.5, 0.6), (507.5, 1.8), (508.5, 1.0),
        (509.5, 1.5)]

# flyCState shading (start, end, colour laid over the traces)
STATE_BANDS = [(-0.2, 1.25, "#FF0000"), (1.25, 10.7, "#00FF00"), (366.1, 457.2, "#0000FF"), (457.2, 510.2, "#009B9B")]

CURSOR_T = 74.564
CURSOR_PITCH, CURSOR_ROLL, CURSOR_ELEV, CURSOR_THR, CURSOR_HEIGHT = -34.8, 0.8, 10000, 0, 67.3

X_TICKS = list(range(0, 481, 30))
PITCH_TICKS = list(range(-36, 25, 3))
ROLL_TICKS = [round(i * 1.6, 1) for i in range(-12, 17)]
CONTROL_TICKS = list(range(-9800, 9801, 700))
HEIGHT_TICKS = list(range(0, 121, 5))

STATUS = [("Attitude:pitch", "#FF0000", "-34.8", 266.5, 407, 352.7, 401.8),
          ("Attitude:roll", "#22EE22", "0.8", 427, 559, 504.5, 553.6),
          ("RC:elevator", "#2222FF", "10,000", 579, 765, 656, 761),
          ("RC:throttle", "#22A0A0", "0", 785.7, 969.4, 858, 962.8),
          ("General:flyCState", "#000000", "GPS_Atti", 988, 1229.6, 1098, 1224.5),
          ("General:height [m]", "#990099", "67.3", 1250, 1456.6, 1368, 1451)]

BUTTONS = [("Zoom Reset", 29.5, 129, "#F0B400", "#E1E1E1"),
           ("Copy to System Clipboard", 131, 309, "#F0B400", "#E1E1E1"),
           ("Pick Signals", 310, 407, "#22CC22", "#E5F1FB"),
           ("Multi Y Axes", 409.5, 508, "#ADADAD", "#E1E1E1")]

RED, GREEN, BLUE, TEAL, PURPLE = "#FF3333", "#33FF33", "#3333FF", "#36ABAB", "#990099"


def fmt_zero(v, text):
    return "-0" if v == 0 else text


fig = plt.figure(figsize=(W / 100, H / 100), dpi=100)

# window chrome
ui = fig.add_axes([0, 0, 1, 1])
ui.set_xlim(0, W)
ui.set_ylim(H, 0)
ui.axis("off")
ui.text(3, 16, "File", fontsize=10, va="center", ha="left")
ui.text(1815, 16, "Help", fontsize=10.5, va="center", ha="right")
for label, x0, x1, edge, face in BUTTONS:
    ui.add_patch(Rectangle((x0, 5), x1 - x0, 23, facecolor=face, edgecolor=edge, lw=1.3))
    if label == "Pick Signals":
        ui.add_patch(Rectangle((x0 + 3, 8), x1 - x0 - 6, 17, fill=False, edgecolor="black", lw=0.7, ls=":"))
    ui.text((x0 + x1) / 2, 17, label, ha="center", va="center", fontsize=9)
ui.plot([0, W], [30, 30], color="#A0A0A0", lw=1.2)

ui.add_patch(Rectangle((0, 853), W, 41, facecolor="#C0C0F0", edgecolor="none"))
for label, color, value, x0, x1, f0, f1 in STATUS:
    ui.add_patch(Rectangle((x0, 859), x1 - x0, 32, facecolor="white", edgecolor="none"))
    ui.text(x0 + 5, 875.5, label, color=color, fontsize=9.5, va="center", ha="left")
    ui.add_patch(Rectangle((f0, 865.5), f1 - f0, 20, facecolor="white", edgecolor="#9A9A9A", lw=1))
    ui.text(f0 + 3, 875.5, value, fontsize=9.5, va="center", ha="left")
ui.text(1475.5, 875.5, "Version 3.6.5", fontsize=9.5, va="center", ha="left")

# plot area
L, R, T, B = 17.7, 1530, 51, 833
ax = fig.add_axes([L / W, 1 - B / H, (R - L) / W, (B - T) / H])
ax.set_xlim(-0.2, 510.2)
ax.set_ylim(-36, 25.38)
for s in ("top", "left"):
    ax.spines[s].set_visible(False)


def make_twin(pos):
    a = ax.twinx()
    a.spines["right"].set_position(("axes", pos))
    for s in ("top", "left", "bottom"):
        a.spines[s].set_visible(False)
    a.patch.set_visible(False)
    return a


ax2 = make_twin((1588.3 - L) / (R - L))
ax3 = make_twin((1647.7 - L) / (R - L))
ax4 = make_twin((1741.7 - L) / (R - L))
ax.yaxis.tick_right()
ax.set_xticks(X_TICKS, labels=["" if v == 90 else str(v) for v in X_TICKS])
ax.set_yticks(PITCH_TICKS, labels=[fmt_zero(v, f"{v}") for v in PITCH_TICKS])
ax2.set_ylim(-20.07, 26.17)
ax3.set_ylim(-10020, 10030)
ax4.set_ylim(0, 120.3)
ax2.set_yticks(ROLL_TICKS, labels=[fmt_zero(v, f"{v:g}") for v in ROLL_TICKS])
ax3.set_yticks(CONTROL_TICKS, labels=[fmt_zero(v, f"{v:,}") for v in CONTROL_TICKS])
ax4.set_yticks(HEIGHT_TICKS, labels=[str(v) for v in HEIGHT_TICKS])

for a in (ax, ax2, ax3, ax4):
    a.tick_params(axis="y", which="both", left=False, labelleft=False, right=True, labelright=True,
                  direction="out", length=3, pad=4, labelsize=8.5, width=0.8)
    a.spines["right"].set_linewidth(1.0)
    for lbl in a.get_yticklabels():
        lbl.set_verticalalignment("bottom")
ax.tick_params(axis="x", direction="out", length=4, pad=3, labelsize=8.5, width=0.8)
ax.spines["bottom"].set_linewidth(1.0)

# traces
t, v = np.array(PITCH).T
ax.plot(t, v, color=RED, lw=1.5)
t, v = np.array(ROLL).T
ax2.plot(t, v, color=GREEN, lw=1.5)
t, v = np.array(ELEVATOR).T
ax3.plot(t, v, color=BLUE, lw=1.5)
t, v = np.array(THROTTLE).T
ax3.plot(t, v, color=TEAL, lw=1.5)
t, v = np.array(HEIGHT).T
ax4.plot(t, v, color=PURPLE, lw=1.5)

for x0, x1, c in STATE_BANDS:
    ax4.axvspan(x0, x1, color=c, alpha=0.2, lw=0, zorder=5)

# cursor
ax4.axvline(CURSOR_T, color="black", lw=1, zorder=6)
ax.plot(CURSOR_T, CURSOR_PITCH, "o", color="#FF0000", ms=6, clip_on=False, zorder=6)
ax2.plot(CURSOR_T, CURSOR_ROLL, "o", color="#00DD00", ms=6, clip_on=False, zorder=6)
ax3.plot(CURSOR_T, CURSOR_THR, "o", color="#119999", ms=6, clip_on=False, zorder=6)
ax3.plot(CURSOR_T, CURSOR_ELEV, "o", color="#0000FF", ms=6, clip_on=False, zorder=6)
ax4.plot(CURSOR_T, CURSOR_HEIGHT, "o", color=PURPLE, ms=6, clip_on=False, zorder=7)
ax4.text(CURSOR_T, -0.003, f"{CURSOR_T:.3f}", transform=blended_transform_factory(ax.transData, ax.transAxes),
         ha="left", va="top", fontsize=15, family="Liberation Serif", zorder=30, clip_on=False,
         bbox=dict(facecolor="white", edgecolor="none", pad=0.5))

# pointer arrow
ann = ax4.annotate("", xy=(110.9, -37.4), xycoords=ax.transData, xytext=(205.3, 4.5), textcoords=ax.transData,
                   arrowprops=dict(arrowstyle=ArrowStyle("-|>", head_length=1.6, head_width=0.45), mutation_scale=20,
                                   color="black", lw=3.6, shrinkA=0, shrinkB=0),
                   annotation_clip=False, zorder=25)
ann.arrow_patch.set_clip_on(False)

# axis titles
for x, text, color in [(1577, "Attitude:pitch", "#FF0000"), (1637, "Attitude:roll", "#22EE22"),
                       (1730, "Control", "black"), (1810, "General:height [m]", PURPLE)]:
    fig.text(x / W, 1 - 441.5 / H, text, rotation=90, color=color, fontsize=14.7, ha="center", va="center")

fig.savefig("out.png", dpi=100)
